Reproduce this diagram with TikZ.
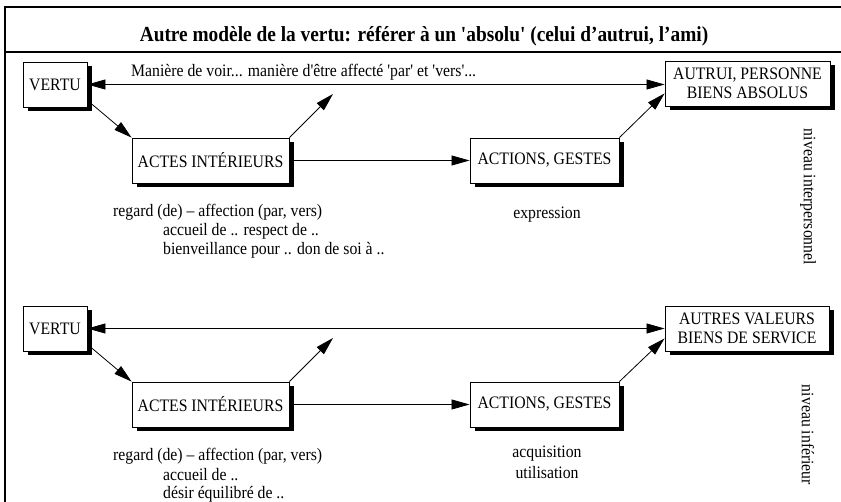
\documentclass[tikz,border=0pt]{standalone}
\usepackage{fontspec}
\setmainfont{Liberation Serif}[Ligatures=TeXOff, FakeStretch=0.9]
\usetikzlibrary{arrows.meta,shadows,calc}
\begin{document}
\begin{tikzpicture}[x=1pt,y=-1pt,
  >={Triangle[length=18pt,width=10pt]},
  box/.style={draw, line width=0.9pt, fill=white, inner sep=0pt, minimum height=45pt,
    align=center, font=\fontsize{17.5}{19.5}\selectfont,
    drop shadow={shadow xshift=4.5pt, shadow yshift=-4.5pt, fill=black, opacity=1, draw=none}},
  txt/.style={inner sep=0pt, font=\fontsize{17.5}{19.5}\selectfont},
  conn/.style={line width=0.8pt},
  frame/.style={line width=1.1pt}]
\useasboundingbox (0,0) rectangle (841,502);
\fill[white] (0,0) rectangle (841,502);
% frame
\draw[frame] (5,502) -- (5,7) -- (841,7);
\draw[frame] (5,52) -- (841,52);
\node[inner sep=0pt, anchor=base, font=\bfseries\fontsize{21.5}{24}\selectfont] (title) at (424,42)
  {Autre modèle de la vertu: référer à un 'absolu' (celui d’autrui, l’ami)};
% upper level
\node[box, minimum width=64pt] (vertuA) at (55,84.5) {VERTU};
\node[box, minimum width=165pt] (autruiA) at (747.5,83.5) {AUTRUI, PERSONNE\\BIENS ABSOLUS};
\node[box, minimum width=157pt] (actesA) at (210.5,160.5) {ACTES INTÉRIEURS};
\node[box, minimum width=149pt] (actionsA) at (544.5,160.5) {ACTIONS, GESTES};
\coordinate (freeA) at (333,94);
\node[txt, anchor=west] (maniere) at (131,72)
  {Manière de voir... manière d'être affecté 'par' et 'vers'...};
\node[txt, anchor=west] (regA) at (113,212) {regard (de) – affection (par, vers)};
\node[txt, anchor=west] (accA) at (163,231) {accueil de .. respect de ..};
\node[txt, anchor=west] (bienA) at (163,250) {bienveillance pour .. don de soi à ..};
\node[txt] (expr) at (547,215) {expression};
\node[txt, rotate=-90] (nivA) at (808,197) {niveau interpersonnel};
\draw[conn,<->] (vertuA.east) -- (vertuA.east -| autruiA.west);
\draw[conn,->] ([yshift=7pt]vertuA.south east) -- (actesA.north west);
\draw[conn,->] (actesA.north east) -- (freeA);
\draw[conn,->] (actesA.east) -- (actionsA.west);
\draw[conn,->] (actionsA.north east) -- ([yshift=13pt]autruiA.south west);
% lower level
\node[box, minimum width=64pt] (vertuB) at (55,328.5) {VERTU};
\node[box, minimum width=164pt] (autresB) at (747,328.5) {AUTRES VALEURS\\BIENS DE SERVICE};
\node[box, minimum width=157pt] (actesB) at (210.5,404.5) {ACTES INTÉRIEURS};
\node[box, minimum width=149pt] (actionsB) at (544.5,404.5) {ACTIONS, GESTES};
\coordinate (freeB) at (333,338);
\node[txt, anchor=west] (regB) at (113,456) {regard (de) – affection (par, vers)};
\node[txt, anchor=west] (accB) at (163,475) {accueil de ..};
\node[txt, anchor=west] (desB) at (163,494) {désir équilibré de ..};
\node[txt] (acq) at (547,454) {acquisition};
\node[txt] (util) at (547,473) {utilisation};
\node[txt, rotate=-90] (nivB) at (808,435) {niveau inférieur};
\draw[conn,<->] (vertuB.east) -- (vertuB.east -| autresB.west);
\draw[conn,->] ([yshift=7pt]vertuB.south east) -- (actesB.north west);
\draw[conn,->] (actesB.north east) -- (freeB);
\draw[conn,->] (actesB.east) -- (actionsB.west);
\draw[conn,->] (actionsB.north east) -- ([yshift=13pt]autresB.south west);
\end{tikzpicture}
\end{document}
